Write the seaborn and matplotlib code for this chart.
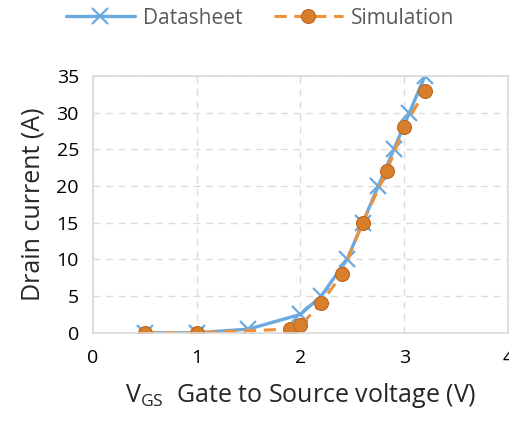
import matplotlib
matplotlib.use("Agg")
import matplotlib.pyplot as plt
import seaborn as sns

# Transfer characteristic: datasheet vs simulation
vgs_datasheet = [0.5, 1.0, 1.5, 2.0, 2.2, 2.45, 2.6, 2.75, 2.9, 3.05, 3.2]
id_datasheet = [0.0, 0.0, 0.5, 2.5, 5.0, 10.0, 15.0, 20.0, 25.0, 30.0, 35.0]

vgs_simulation = [0.5, 1.0, 1.9, 2.0, 2.2, 2.4, 2.6, 2.83, 3.0, 3.2]
id_simulation = [0.0, 0.0, 0.5, 1.0, 4.0, 8.0, 15.0, 22.0, 28.0, 33.0]

x_ticks = [0, 1, 2, 3, 4]
y_ticks = [0, 5, 10, 15, 20, 25, 30, 35]

sns.set_style("white")
plt.rcParams["font.family"] = ["Open Sans", "DejaVu Sans"]

fig = plt.figure(figsize=(5.1, 4.25), dpi=100)
ax = fig.add_axes([0.182, 0.217, 0.814, 0.604])

sns.lineplot(x=vgs_datasheet, y=id_datasheet, ax=ax, color="#6aaae0",
             linewidth=2.4, marker="x", markersize=12, markeredgewidth=1.6,
             markeredgecolor="#6aaae0", label="Datasheet", sort=False)
sns.lineplot(x=vgs_simulation, y=id_simulation, ax=ax, color="#f0903a",
             linewidth=2.2, linestyle=(0, (4, 2.5)), marker="o", markersize=10,
             markerfacecolor="#d97f2c", markeredgecolor="#b8661f",
             markeredgewidth=0.8, label="Simulation", sort=False)

ax.set_xlim(0, 4)
ax.set_ylim(0, 35)
ax.set_xticks(x_ticks)
ax.set_yticks(y_ticks)
ax.grid(True, color="#dcdcdc", linestyle=(0, (5, 4)), linewidth=1)
for s in ax.spines.values():
    s.set_color("#d9d9d9")
    s.set_linewidth(1.2)
ax.tick_params(axis="both", labelsize=14, length=0, colors="black")
ax.tick_params(axis="x", pad=12)
ax.tick_params(axis="y", pad=10)

ax.set_xlabel(r"V$_{\mathregular{GS}}$  Gate to Source voltage (V)", fontsize=18, labelpad=10)
ax.set_ylabel("Drain current (A)", fontsize=18, labelpad=8)

leg = ax.legend(loc="center", bbox_to_anchor=(0.51, 0.957),
                bbox_transform=fig.transFigure, ncol=2, frameon=False,
                fontsize=15, handlelength=3.3, columnspacing=1.5,
                handletextpad=0.4)
for t in leg.get_texts():
    t.set_color("#595959")

fig.savefig("out.png", dpi=100)
